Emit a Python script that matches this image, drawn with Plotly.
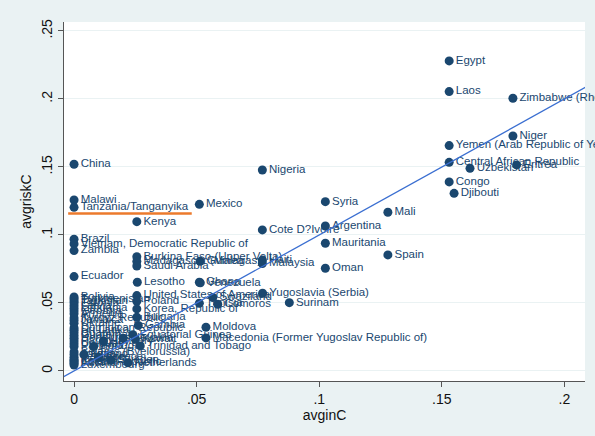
import plotly.graph_objects as go

countries = [
    "Egypt", "Laos", "Zimbabwe (Rhodesia)", "Niger", "Yemen (Arab Republic of Yemen)",
    "Central African Republic", "Eritrea", "Uzbekistan", "Congo", "Djibouti",
    "Nigeria", "Syria", "Mali", "Argentina", "Cote D?Ivoire", "Mauritania", "Spain", "Oman",
    "Haiti", "Malaysia", "China", "Malawi", "Tanzania/Tanganyika", "Mexico", "Kenya",
    "Brazil", "Vietnam, Democratic Republic of", "Zambia",
    "Burkina Faso (Upper Volta)", "Madagascar (Malagasy)", "Saudi Arabia", "Guinea",
    "Ecuador", "Lesotho", "Ghana", "Venezuela", "Yugoslavia (Serbia)", "Surinam",
    "Comoros", "Tunisia", "Swaziland", "United States of America", "Moldova",
    "Macedonia (Former Yugoslav Republic of)",
    "Poland", "Korea, Republic of", "Bulgaria", "Gambia", "Equatorial Guinea",
    "Kuwait", "Trinidad and Tobago",
    "Bolivia", "Turkmenistan", "Tajikistan", "Estonia", "Latvia", "Lithuania", "Georgia",
    "Armenia", "Kyrgyz Republic", "Jamaica", "Ukraine", "Dominican Republic", "Sri Lanka",
    "Uganda", "Guatemala", "Honduras", "Paraguay", "Uruguay", "Panama", "Belarus (Byelorussia)",
    "Jordan", "Lebanon", "Iceland", "Ireland", "Czech Republic", "Austria", "Luxembourg",
    "Finland", "Portugal", "Greece", "Hungary", "Sweden", "Slovakia", "Netherlands",
]

avginC = [
    0.153, 0.153, 0.179, 0.179, 0.153,
    0.153, 0.1805, 0.1615, 0.153, 0.155,
    0.0768, 0.1025, 0.128, 0.1025, 0.0768, 0.1025, 0.128, 0.1025,
    0.0768, 0.0768, 0.0, 0.0, 0.0, 0.0511, 0.0256,
    0.0, 0.0, 0.0,
    0.0256, 0.0256, 0.0256, 0.0514,
    0.0, 0.0258, 0.0511, 0.0515, 0.0769, 0.0878,
    0.0586, 0.0511, 0.0566, 0.0256, 0.0538,
    0.0538,
    0.0256, 0.0256, 0.0256, 0.0262, 0.0240,
    0.0250, 0.0270,
    0.0, 0.0, 0.0, 0.0, 0.0, 0.0, 0.0,
    0.0, 0.0, 0.0, 0.0, 0.0, 0.0,
    0.0, 0.0, 0.0, 0.0, 0.0, 0.0, 0.0,
    0.0, 0.0, 0.0, 0.0, 0.0, 0.0, 0.0,
    0.004, 0.008, 0.010, 0.012, 0.015, 0.020, 0.022,
]

avgriskC = [
    0.228, 0.2054, 0.2005, 0.1728, 0.1657,
    0.1534, 0.1515, 0.149, 0.139, 0.1306,
    0.1478, 0.1245, 0.1167, 0.1066, 0.1037, 0.0939, 0.0853, 0.0755,
    0.0815, 0.0790, 0.152, 0.1257, 0.1203, 0.1225, 0.1098,
    0.0968, 0.0934, 0.0885,
    0.0840, 0.0805, 0.0772, 0.0806,
    0.0694, 0.0652, 0.0652, 0.0648, 0.0571, 0.0502,
    0.0490, 0.0498, 0.0540, 0.0554, 0.0321,
    0.0243,
    0.0512, 0.0456, 0.0395, 0.0335, 0.0267,
    0.0235, 0.0184,
    0.0544, 0.0530, 0.0515, 0.0500, 0.0480, 0.0460, 0.0440,
    0.0420, 0.0390, 0.0370, 0.0350, 0.0316, 0.0300,
    0.0280, 0.0260, 0.0240, 0.0220, 0.0200, 0.0180, 0.0140,
    0.0120, 0.0100, 0.0085, 0.0075, 0.0066, 0.0055, 0.0044,
    0.012, 0.018, 0.010, 0.022, 0.008, 0.024, 0.006,
]

xtick_vals = [0, 0.05, 0.1, 0.15, 0.2]
xtick_text = ["0", ".05", ".1", ".15", ".2"]
ytick_vals = [0, 0.05, 0.1, 0.15, 0.2, 0.25]
ytick_text = ["0", ".05", ".1", ".15", ".2", ".25"]

x_range = [-0.0041, 0.2084]
y_range = [-0.0074, 0.2566]

navy = "#1a476f"
font_family = "Liberation Sans, Arial, sans-serif"

fig = go.Figure()
fig.add_trace(go.Scatter(
    x=avginC, y=avgriskC, mode="markers+text", text=countries,
    textposition="middle right",
    marker=dict(color=navy, size=9),
    textfont=dict(family=font_family, size=11.5, color=navy),
    cliponaxis=False, hoverinfo="text",
))

# 45-degree reference line y = x across the axis range
ref_x = [x_range[0] - 0.01, x_range[1] + 0.01]
fig.add_trace(go.Scatter(
    x=ref_x, y=ref_x, mode="lines",
    line=dict(color="#3b6fd1", width=1.3), hoverinfo="skip",
))

# orange highlight under the Tanzania label
tz = countries.index("Tanzania/Tanganyika")
fig.add_shape(type="line", x0=avginC[tz] - 0.0024, x1=avginC[tz] + 0.048,
              y0=avgriskC[tz] - 0.0045, y1=avgriskC[tz] - 0.0045,
              line=dict(color="#ec7a2c", width=2.5), layer="above")

axis_common = dict(
    ticks="outside", ticklen=5, tickcolor="#555", tickwidth=1,
    showline=True, linecolor="#555", linewidth=1,
    zeroline=False, automargin=False,
    tickfont=dict(family=font_family, size=14, color="#111"),
)

fig.update_layout(
    width=595, height=436,
    margin=dict(l=64, r=10, t=22, b=55),
    paper_bgcolor="#eaf2f3", plot_bgcolor="white",
    showlegend=False,
    font=dict(family=font_family),
    xaxis=dict(range=x_range, tickvals=xtick_vals, ticktext=xtick_text, showgrid=False,
               title=dict(text="avginC", font=dict(size=14, color="#111"), standoff=2),
               **axis_common),
    yaxis=dict(range=y_range, tickvals=ytick_vals, ticktext=ytick_text, tickangle=-90,
               showgrid=True, gridcolor="#eaf2f3", gridwidth=1,
               title=dict(text="avgriskC", font=dict(size=14, color="#111"), standoff=4),
               **axis_common),
)

fig.write_html(
    "out.html",
    config={"displayModeBar": False},
    post_script="document.body.style.margin='0';document.body.style.background='#eaf2f3';",
)
